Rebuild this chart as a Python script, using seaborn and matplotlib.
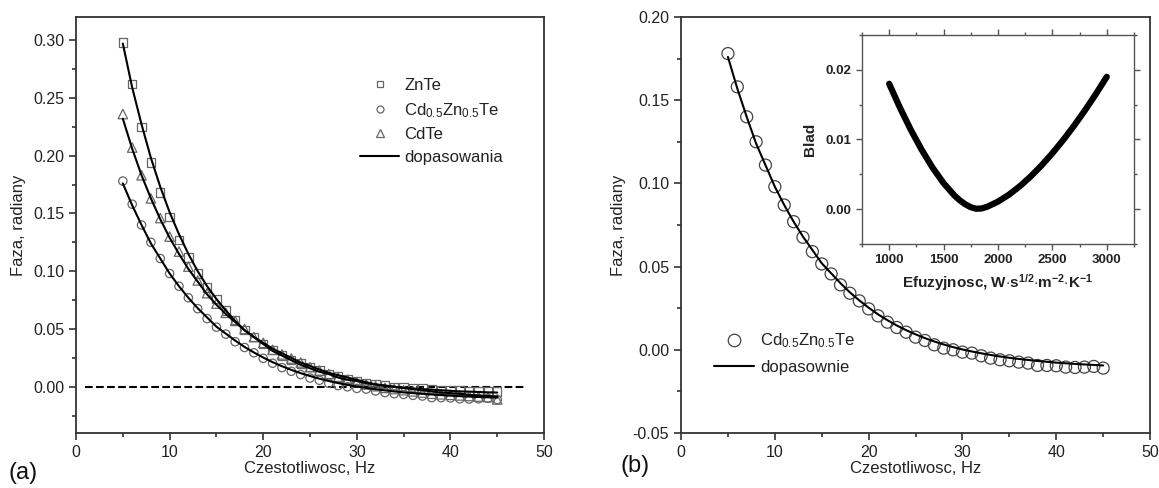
import numpy as np
import pandas as pd
import matplotlib
matplotlib.use("Agg")
import matplotlib.pyplot as plt
from matplotlib.lines import Line2D
from matplotlib.ticker import MultipleLocator, FormatStrFormatter
import seaborn as sns

# ---------------- data ----------------
freq = list(range(5, 46))

znte = [0.298, 0.262, 0.225, 0.194, 0.168, 0.147, 0.127, 0.112, 0.098, 0.086,
        0.076, 0.066, 0.058, 0.049, 0.043, 0.037, 0.032, 0.027, 0.023, 0.020,
        0.017, 0.014, 0.011, 0.009, 0.007, 0.005, 0.003, 0.002, 0.001, 0.000,
        -0.0005, -0.001, -0.0015, -0.002, -0.0025, -0.003, -0.003, -0.0035, -0.004, -0.004, -0.004]
cdte = [0.236, 0.207, 0.183, 0.163, 0.146, 0.130, 0.117, 0.104, 0.092, 0.081,
        0.072, 0.064, 0.057, 0.050, 0.043, 0.038, 0.032, 0.028, 0.0245, 0.021,
        0.017, 0.014, 0.011, 0.008, 0.006, 0.004, 0.002, 0.0005, -0.001, -0.002,
        -0.003, -0.004, -0.005, -0.006, -0.0065, -0.007, -0.0075, -0.008, -0.0085, -0.009, -0.011]
cdzn = [0.178, 0.158, 0.140, 0.125, 0.111, 0.098, 0.087, 0.077, 0.0676, 0.059,
        0.0516, 0.0456, 0.039, 0.034, 0.0294, 0.0246, 0.0204, 0.0166, 0.0134, 0.0106,
        0.0076, 0.0056, 0.003, 0.001, 0.0, -0.0014, -0.002, -0.0036, -0.005, -0.006,
        -0.0066, -0.0074, -0.008, -0.0094, -0.0094, -0.0096, -0.0104, -0.0106, -0.0104, -0.010, -0.011]

fit_znte = [0.297, 0.259, 0.227, 0.198, 0.173, 0.151, 0.132, 0.115, 0.100, 0.087,
            0.076, 0.066, 0.057, 0.049, 0.043, 0.037, 0.031, 0.027, 0.023, 0.019,
            0.016, 0.013, 0.011, 0.008, 0.006, 0.005, 0.003, 0.002, 0.001, 0.000,
            -0.001, -0.0015, -0.002, -0.0025, -0.003, -0.0035, -0.004, -0.0042, -0.0045, -0.0048, -0.005]
fit_cdte = [0.232, 0.206, 0.183, 0.163, 0.145, 0.129, 0.115, 0.102, 0.091, 0.080,
            0.071, 0.063, 0.056, 0.049, 0.043, 0.038, 0.033, 0.029, 0.025, 0.021,
            0.018, 0.015, 0.012, 0.010, 0.008, 0.006, 0.004, 0.002, 0.001, 0.000,
            -0.001, -0.002, -0.003, -0.004, -0.005, -0.0055, -0.006, -0.007, -0.0075, -0.008, -0.0085]
fit_cdzn = [0.176, 0.157, 0.140, 0.124, 0.111, 0.098, 0.087, 0.077, 0.068, 0.060,
            0.052, 0.046, 0.040, 0.0345, 0.0297, 0.0253, 0.0213, 0.0178, 0.0146, 0.0118,
            0.0093, 0.0070, 0.0050, 0.0032, 0.0016, 0.0002, -0.0010, -0.0021, -0.0031, -0.0040,
            -0.0048, -0.0055, -0.0061, -0.0067, -0.0072, -0.0077, -0.0081, -0.0085, -0.0088, -0.0091, -0.0094]

# inset: error vs effusivity
effus = [1000, 1100, 1200, 1300, 1400, 1500, 1600, 1650, 1700, 1750, 1800, 1850, 1900,
         2000, 2100, 2200, 2300, 2400, 2500, 2600, 2700, 2800, 2900, 3000]
blad = [0.0180, 0.01454, 0.01136, 0.00849, 0.00594, 0.00374, 0.00196, 0.00126, 0.00070, 0.00028,
        0.00006, 0.00010, 0.00034, 0.00108, 0.00207, 0.00328, 0.00468, 0.00627, 0.00802,
        0.00993, 0.01199, 0.01419, 0.01653, 0.0190]

zero_x = [1, 48]
zero_y = [0, 0]

# ---------------- style ----------------
sns.set_style("ticks")
plt.rcParams['font.family'] = ['Liberation Sans', 'DejaVu Sans']
plt.rcParams['mathtext.fontset'] = 'custom'
plt.rcParams['mathtext.rm'] = 'Liberation Sans'
plt.rcParams['mathtext.it'] = 'Liberation Sans'
plt.rcParams['mathtext.bf'] = 'Liberation Sans:bold'

SP = '#333333'
MK = '#666666'
TXT = '#222222'

fig = plt.figure(figsize=(11.59, 4.88), dpi=100)
axA = fig.add_axes([0.0656, 0.1127, 0.4038, 0.8525])
axB = fig.add_axes([0.5876, 0.1127, 0.4047, 0.8525])
axI = fig.add_axes([0.7437, 0.5, 0.2347, 0.4283])

def style_main(ax):
    for s in ax.spines.values():
        s.set_color(SP)
        s.set_linewidth(1.3)
    ax.tick_params(which='both', direction='out', color=SP, width=1.2,
                   labelsize=11.5, labelcolor=TXT, top=False, right=False)
    ax.tick_params(which='major', length=5)
    ax.tick_params(which='minor', length=3)
    ax.xaxis.set_major_locator(MultipleLocator(10))
    ax.xaxis.set_minor_locator(MultipleLocator(5))
    ax.set_xlim(0, 50)
    ax.set_xlabel("Czestotliwosc, Hz", fontsize=12, color=TXT, labelpad=1)
    ax.set_ylabel("Faza, radiany", fontsize=12, color=TXT, labelpad=5)

# ---------------- panel (a) ----------------
dfa = pd.DataFrame({'f': freq, 'znte': znte, 'cdte': cdte, 'cdzn': cdzn,
                    'fz': fit_znte, 'fc': fit_cdte, 'fd': fit_cdzn})
sns.lineplot(x=zero_x, y=zero_y, ax=axA, color='black', lw=1.5, dashes=(5, 3.5), linestyle='--')
for col, m, sz in [('znte', 's', 36), ('cdzn', 'o', 36), ('cdte', '^', 46)]:
    sns.scatterplot(data=dfa, x='f', y=col, ax=axA, marker=m, s=sz,
                    facecolor='none', edgecolor=MK, linewidth=0.9, zorder=2)
for col in ['fz', 'fc', 'fd']:
    sns.lineplot(data=dfa, x='f', y=col, ax=axA, color='black', lw=1.5, zorder=3)
axA.set_ylim(-0.04, 0.32)
axA.yaxis.set_major_locator(MultipleLocator(0.05))
axA.yaxis.set_minor_locator(MultipleLocator(0.025))
axA.yaxis.set_major_formatter(FormatStrFormatter('%.2f'))
style_main(axA)

hA = [Line2D([], [], ls='none', marker='s', mfc='none', mec=MK, ms=5, mew=0.9),
      Line2D([], [], ls='none', marker='o', mfc='none', mec=MK, ms=5, mew=0.9),
      Line2D([], [], ls='none', marker='^', mfc='none', mec=MK, ms=6, mew=0.9),
      Line2D([], [], color='black', lw=1.5)]
lA = ['ZnTe', r'Cd$_{0.5}$Zn$_{0.5}$Te', 'CdTe', 'dopasowania']
axA.legend(hA, lA, loc='upper left', bbox_to_anchor=(352/1159, 1-70/488),
           bbox_transform=fig.transFigure, frameon=False, fontsize=12,
           handlelength=2.3, handletextpad=0.35, labelspacing=0.45, borderpad=0,
           labelcolor=TXT)

# ---------------- panel (b) ----------------
sns.scatterplot(data=dfa, x='f', y='cdzn', ax=axB, marker='o', s=75,
                facecolor='none', edgecolor='#444444', linewidth=0.9, zorder=2)
sns.lineplot(data=dfa, x='f', y='fd', ax=axB, color='black', lw=1.5, zorder=3)
axB.set_ylim(-0.05, 0.20)
axB.yaxis.set_major_locator(MultipleLocator(0.05))
axB.yaxis.set_minor_locator(MultipleLocator(0.025))
axB.yaxis.set_major_formatter(FormatStrFormatter('%.2f'))
style_main(axB)
hB = [Line2D([], [], ls='none', marker='o', mfc='none', mec='#444444', ms=9, mew=0.9),
      Line2D([], [], color='black', lw=1.5)]
lB = [r'Cd$_{0.5}$Zn$_{0.5}$Te', 'dopasownie']
axB.legend(hB, lB, loc='upper left', bbox_to_anchor=(706/1159, 1-323/488),
           bbox_transform=fig.transFigure, frameon=False, fontsize=12,
           handlelength=2.4, handletextpad=0.35, labelspacing=0.6, borderpad=0,
           labelcolor=TXT)

# ---------------- inset ----------------
dfi = pd.DataFrame({'e': effus, 'b': blad})
sns.lineplot(data=dfi, x='e', y='b', ax=axI, color='black', lw=4.5)
axI.set_xlim(750, 3250)
axI.set_ylim(-0.005, 0.025)
axI.xaxis.set_major_locator(MultipleLocator(500))
axI.xaxis.set_minor_locator(MultipleLocator(250))
axI.yaxis.set_major_locator(MultipleLocator(0.01))
axI.yaxis.set_minor_locator(MultipleLocator(0.005))
axI.yaxis.set_major_formatter(FormatStrFormatter('%.2f'))
for s in axI.spines.values():
    s.set_color('#555555')
    s.set_linewidth(1.0)
axI.tick_params(which='both', direction='out', color='#555555', width=1.0,
                labelsize=9.5, labelcolor=TXT, top=True, right=True,
                labeltop=False, labelright=False)
axI.tick_params(which='major', length=4)
axI.tick_params(which='minor', length=2)
for lab in axI.get_xticklabels() + axI.get_yticklabels():
    lab.set_fontweight('bold')
axI.set_xlabel(r'Efuzyjnosc, W$\cdot$s$^{\mathbf{1/2}}$$\cdot$m$^{\mathbf{-2}}$$\cdot$K$^{\mathbf{-1}}$',
               fontsize=11, fontweight='bold', labelpad=4, color=TXT)
axI.set_ylabel('Blad', fontsize=11, fontweight='bold', labelpad=6, color=TXT)

# panel labels
fig.text(8/1159, 1-473/488, '(a)', fontsize=17, va='center', ha='left', color='#111111')
fig.text(621/1159, 1-466/488, '(b)', fontsize=17, va='center', ha='left', color='#111111')

fig.savefig('out.png', dpi=100)
